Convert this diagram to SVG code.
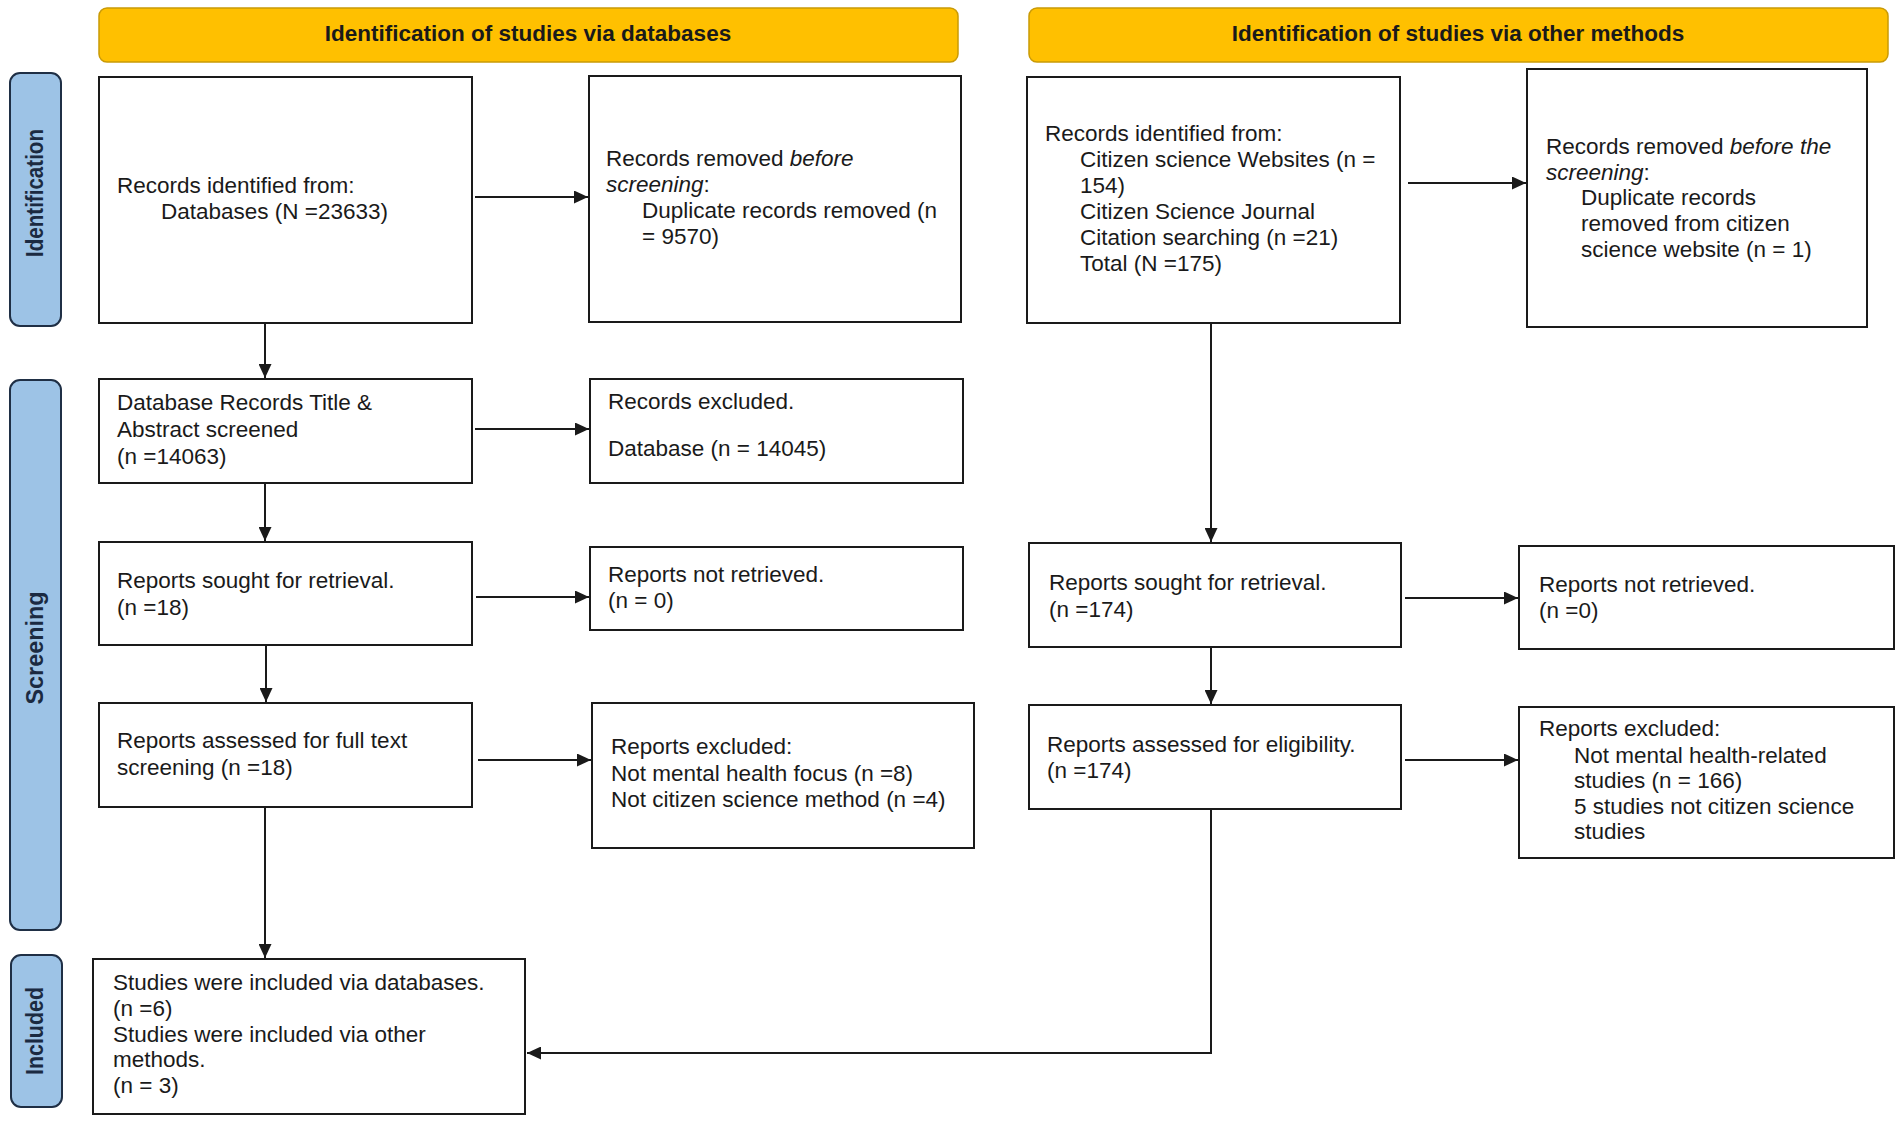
<svg xmlns="http://www.w3.org/2000/svg" width="1902" height="1123" viewBox="0 0 1902 1123">
<style>
.box{fill:#ffffff;stroke:#1a1a1a;stroke-width:2}
.hdr{fill:#FFC000;stroke:#C99A06;stroke-width:1.5}
.pill{fill:#9DC3E6;stroke:#1F2F45;stroke-width:2}
.t{font-family:"Liberation Sans",Arial,sans-serif;font-size:22.5px;fill:#1a1a1a}
.ht{font-family:"Liberation Sans",Arial,sans-serif;font-size:22.5px;font-weight:bold;fill:#1a1a1a;text-anchor:middle}
.pt{font-family:"Liberation Sans",Arial,sans-serif;font-size:23px;font-weight:bold;fill:#1B2A41;text-anchor:middle}
.c{fill:none;stroke:#1a1a1a;stroke-width:2}
</style>
<defs>
<marker id="ah" markerUnits="userSpaceOnUse" markerWidth="15" markerHeight="13" refX="14" refY="6.5" orient="auto">
<path d="M0,0 L14,6.5 L0,13 z" fill="#1a1a1a"/>
</marker>
</defs>
<rect width="1902" height="1123" fill="#ffffff"/>

<g id="header-databases">
<rect class="hdr" x="99" y="8" width="859" height="54" rx="8"/>
<text class="ht" x="528" y="41">Identification of studies via databases</text>
</g>
<g id="header-other">
<rect class="hdr" x="1029" y="8" width="859" height="54" rx="8"/>
<text class="ht" x="1458" y="41">Identification of studies via other methods</text>
</g>

<g id="phase-identification">
<rect class="pill" x="10" y="73" width="51" height="253" rx="10"/>
<text class="pt" transform="translate(43,193) rotate(-90)" textLength="128" lengthAdjust="spacingAndGlyphs">Identification</text>
</g>
<g id="phase-screening">
<rect class="pill" x="10" y="380" width="51" height="550" rx="10"/>
<text class="pt" transform="translate(43,648) rotate(-90)" textLength="113" lengthAdjust="spacingAndGlyphs">Screening</text>
</g>
<g id="phase-included">
<rect class="pill" x="11" y="955" width="51" height="152" rx="10"/>
<text class="pt" transform="translate(43,1031) rotate(-90)" textLength="88" lengthAdjust="spacingAndGlyphs">Included</text>
</g>

<g id="db-identified">
<rect class="box" x="99" y="77" width="373" height="246"/>
<text class="t" x="117" y="193">Records identified from:</text>
<text class="t" x="161" y="219">Databases (N =23633)</text>
</g>
<g id="db-removed">
<rect class="box" x="589" y="76" width="372" height="246"/>
<text class="t" x="606" y="166">Records removed <tspan font-style="italic">before</tspan></text>
<text class="t" x="606" y="192"><tspan font-style="italic">screening</tspan>:</text>
<text class="t" x="642" y="218">Duplicate records removed (n</text>
<text class="t" x="642" y="244">= 9570)</text>
</g>
<g id="db-screened">
<rect class="box" x="99" y="379" width="373" height="104"/>
<text class="t" x="117" y="410">Database Records Title &amp;</text>
<text class="t" x="117" y="437">Abstract screened</text>
<text class="t" x="117" y="464">(n =14063)</text>
</g>
<g id="db-excluded">
<rect class="box" x="590" y="379" width="373" height="104"/>
<text class="t" x="608" y="409">Records excluded.</text>
<text class="t" x="608" y="456">Database (n = 14045)</text>
</g>
<g id="db-sought">
<rect class="box" x="99" y="542" width="373" height="103"/>
<text class="t" x="117" y="588">Reports sought for retrieval.</text>
<text class="t" x="117" y="615">(n =18)</text>
</g>
<g id="db-not-retrieved">
<rect class="box" x="590" y="547" width="373" height="83"/>
<text class="t" x="608" y="582">Reports not retrieved.</text>
<text class="t" x="608" y="608">(n = 0)</text>
</g>
<g id="db-assessed">
<rect class="box" x="99" y="703" width="373" height="104"/>
<text class="t" x="117" y="748">Reports assessed for full text</text>
<text class="t" x="117" y="775">screening (n =18)</text>
</g>
<g id="db-reports-excluded">
<rect class="box" x="592" y="703" width="382" height="145"/>
<text class="t" x="611" y="754">Reports excluded:</text>
<text class="t" x="611" y="781">Not mental health focus (n =8)</text>
<text class="t" x="611" y="807">Not citizen science method (n =4)</text>
</g>
<g id="included">
<rect class="box" x="93" y="959" width="432" height="155"/>
<text class="t" x="113" y="990">Studies were included via databases.</text>
<text class="t" x="113" y="1016">(n =6)</text>
<text class="t" x="113" y="1042">Studies were included via other</text>
<text class="t" x="113" y="1067">methods.</text>
<text class="t" x="113" y="1093">(n = 3)</text>
</g>

<g id="other-identified">
<rect class="box" x="1027" y="77" width="373" height="246"/>
<text class="t" x="1045" y="141">Records identified from:</text>
<text class="t" x="1080" y="167">Citizen science Websites (n =</text>
<text class="t" x="1080" y="193">154)</text>
<text class="t" x="1080" y="219">Citizen Science Journal</text>
<text class="t" x="1080" y="245">Citation searching (n =21)</text>
<text class="t" x="1080" y="271">Total (N =175)</text>
</g>
<g id="other-removed">
<rect class="box" x="1527" y="69" width="340" height="258"/>
<text class="t" x="1546" y="154">Records removed <tspan font-style="italic">before the</tspan></text>
<text class="t" x="1546" y="180"><tspan font-style="italic">screening</tspan>:</text>
<text class="t" x="1581" y="205">Duplicate records</text>
<text class="t" x="1581" y="231">removed from citizen</text>
<text class="t" x="1581" y="257">science website (n = 1)</text>
</g>
<g id="other-sought">
<rect class="box" x="1029" y="543" width="372" height="104"/>
<text class="t" x="1049" y="590">Reports sought for retrieval.</text>
<text class="t" x="1049" y="617">(n =174)</text>
</g>
<g id="other-not-retrieved">
<rect class="box" x="1519" y="546" width="375" height="103"/>
<text class="t" x="1539" y="592">Reports not retrieved.</text>
<text class="t" x="1539" y="618">(n =0)</text>
</g>
<g id="other-assessed">
<rect class="box" x="1029" y="705" width="372" height="104"/>
<text class="t" x="1047" y="752">Reports assessed for eligibility.</text>
<text class="t" x="1047" y="778">(n =174)</text>
</g>
<g id="other-excluded">
<rect class="box" x="1519" y="707" width="375" height="151"/>
<text class="t" x="1539" y="736">Reports excluded:</text>
<text class="t" x="1574" y="763">Not mental health-related</text>
<text class="t" x="1574" y="788">studies (n = 166)</text>
<text class="t" x="1574" y="814">5 studies not citizen science</text>
<text class="t" x="1574" y="839">studies</text>
</g>

<g id="connectors">
<line class="c" x1="475" y1="197" x2="588" y2="197" marker-end="url(#ah)"/>
<line class="c" x1="265" y1="323" x2="265" y2="378" marker-end="url(#ah)"/>
<line class="c" x1="475" y1="429" x2="589" y2="429" marker-end="url(#ah)"/>
<line class="c" x1="265" y1="483" x2="265" y2="541" marker-end="url(#ah)"/>
<line class="c" x1="476" y1="597" x2="589" y2="597" marker-end="url(#ah)"/>
<line class="c" x1="266" y1="645" x2="266" y2="702" marker-end="url(#ah)"/>
<line class="c" x1="478" y1="760" x2="591" y2="760" marker-end="url(#ah)"/>
<line class="c" x1="265" y1="807" x2="265" y2="958" marker-end="url(#ah)"/>
<line class="c" x1="1408" y1="183" x2="1526" y2="183" marker-end="url(#ah)"/>
<line class="c" x1="1211" y1="323" x2="1211" y2="542" marker-end="url(#ah)"/>
<line class="c" x1="1405" y1="598" x2="1518" y2="598" marker-end="url(#ah)"/>
<line class="c" x1="1211" y1="647" x2="1211" y2="704" marker-end="url(#ah)"/>
<line class="c" x1="1405" y1="760" x2="1518" y2="760" marker-end="url(#ah)"/>
<polyline class="c" points="1211,809 1211,1053 527,1053" marker-end="url(#ah)"/>
</g>
</svg>
